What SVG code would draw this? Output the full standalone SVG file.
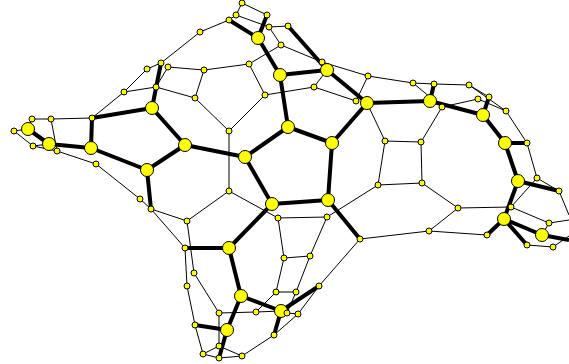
<svg xmlns="http://www.w3.org/2000/svg" width="569" height="364" viewBox="0 0 569 364">
<style>
.t{stroke:#000;stroke-width:1;fill:none}
.k{stroke:#000;stroke-width:4;fill:none}
.b{fill:#ffff00;stroke:#000;stroke-width:1}
</style>
<rect width="569" height="364" fill="#fff"/>
<g id="connectors">
<path class="k" d="M28,129L49,144M49,144L91,148M91,148L92,118M92,118L152,108M91,148L147,170M152,108L161,63M152,108L185,145M185,145L147,170M147,170L151,209M185,145L245,157M245,157L288,127M245,157L272,204M288,127L280,75M288,127L332,143M280,75L258,38M280,75L327,70M258,38L229,20M258,38L267,15M288,26L327,70M327,70L367,103M367,103L332,143M367,103L430,101M430,101L434,84M430,101L483,115M483,115L489,97M483,115L505,143M505,143L527,143M505,143L518,181M518,181L559,191M518,181L504,219M504,219L487,235M504,219L527,245M504,219L542,235M542,235L569,240M332,143L328,200M328,200L272,204M328,200L360,239M272,204L229,248M229,248L185,248M229,248L241,296M241,296L227,330M241,296L281,311M227,330L195,325M227,330L219,358M281,311L274,335M281,311L319,286"/>
<path class="t" d="M14,131L28,129M14,131L33,146M28,129L32,119M32,119L51,119M51,119L92,118M51,119L57,151M33,146L49,144M33,146L57,151M57,151L96,164M96,164L140,199M140,199L151,209M151,209L187,221M151,209L185,248M92,118L124,92M124,92L147,69M124,92L156,87M147,69L161,63M161,63L200,32M168,67L204,70M168,67L156,87M156,87L195,98M204,70L195,98M204,70L249,64M195,98L229,131M249,64L281,45M249,64L265,95M265,95L229,131M265,95L314,87M229,131L229,191M200,32L229,20M229,20L236,15M236,15L242,3M242,3L267,15M236,15L269,27M269,27L288,26M269,27L281,45M281,45L322,62M322,62L368,76M368,76L413,83M413,83L434,84M413,83L442,107M434,84L469,85M469,85L489,97M469,85L506,111M442,107L478,99M478,99L506,111M506,111L527,143M442,107L421,142M327,70L314,87M314,87L356,101M356,101L368,76M367,103L385,141M385,141L421,142M421,142L422,183M385,141L378,185M378,185L422,183M378,185L327,217M422,183L458,208M458,208L511,207M458,208L429,231M429,231L360,239M429,231L487,235M527,143L537,178M537,178L511,207M537,178L559,191M511,207L549,223M549,223L542,235M549,223L569,220M559,191L569,215M527,245L553,247M553,247L569,236M229,191L187,221M229,191L278,218M278,218L327,217M278,218L284,258M327,217L310,256M284,258L310,256M284,258L276,292M310,256L296,292M296,292L276,292M296,292L287,313M276,292L256,312M256,312L219,313M256,312L281,311M219,313L194,273M219,313L219,346M194,273L187,221M185,248L187,286M187,286L195,325M195,325L203,354M203,354L219,346M203,354L219,358M219,346L242,356M219,358L242,356M242,356L274,335M274,335L298,314M287,313L298,314M298,314L319,286M319,286L360,239"/>
</g>
<g id="n1"><circle class="b" cx="14" cy="131" r="3"/></g>
<g id="n2"><circle class="b" cx="28" cy="129" r="6.5"/></g>
<g id="n3"><circle class="b" cx="32" cy="119" r="3"/></g>
<g id="n4"><circle class="b" cx="51" cy="119" r="3"/></g>
<g id="n5"><circle class="b" cx="92" cy="118" r="3"/></g>
<g id="n6"><circle class="b" cx="33" cy="146" r="3"/></g>
<g id="n7"><circle class="b" cx="49" cy="144" r="6.5"/></g>
<g id="n8"><circle class="b" cx="57" cy="151" r="3"/></g>
<g id="n9"><circle class="b" cx="91" cy="148" r="6.5"/></g>
<g id="n10"><circle class="b" cx="96" cy="164" r="3"/></g>
<g id="n11"><circle class="b" cx="140" cy="199" r="3"/></g>
<g id="n12"><circle class="b" cx="147" cy="170" r="6.5"/></g>
<g id="n13"><circle class="b" cx="151" cy="209" r="3"/></g>
<g id="n14"><circle class="b" cx="124" cy="92" r="3"/></g>
<g id="n15"><circle class="b" cx="147" cy="69" r="3"/></g>
<g id="n16"><circle class="b" cx="161" cy="63" r="3"/></g>
<g id="n17"><circle class="b" cx="168" cy="67" r="3"/></g>
<g id="n18"><circle class="b" cx="156" cy="87" r="3"/></g>
<g id="n19"><circle class="b" cx="152" cy="108" r="6.5"/></g>
<g id="n20"><circle class="b" cx="185" cy="145" r="6.5"/></g>
<g id="n21"><circle class="b" cx="200" cy="32" r="3"/></g>
<g id="n22"><circle class="b" cx="204" cy="70" r="3"/></g>
<g id="n23"><circle class="b" cx="195" cy="98" r="3"/></g>
<g id="n24"><circle class="b" cx="249" cy="64" r="3"/></g>
<g id="n25"><circle class="b" cx="265" cy="95" r="3"/></g>
<g id="n26"><circle class="b" cx="229" cy="131" r="3"/></g>
<g id="n27"><circle class="b" cx="229" cy="20" r="3"/></g>
<g id="n28"><circle class="b" cx="236" cy="15" r="3"/></g>
<g id="n29"><circle class="b" cx="242" cy="3" r="3"/></g>
<g id="n30"><circle class="b" cx="267" cy="15" r="3"/></g>
<g id="n31"><circle class="b" cx="269" cy="27" r="3"/></g>
<g id="n32"><circle class="b" cx="258" cy="38" r="6.5"/></g>
<g id="n33"><circle class="b" cx="281" cy="45" r="3"/></g>
<g id="n34"><circle class="b" cx="288" cy="26" r="3"/></g>
<g id="n35"><circle class="b" cx="280" cy="75" r="6.5"/></g>
<g id="n36"><circle class="b" cx="322" cy="62" r="3"/></g>
<g id="n37"><circle class="b" cx="327" cy="70" r="6.5"/></g>
<g id="n38"><circle class="b" cx="314" cy="87" r="3"/></g>
<g id="n39"><circle class="b" cx="368" cy="76" r="3"/></g>
<g id="n40"><circle class="b" cx="356" cy="101" r="3"/></g>
<g id="n41"><circle class="b" cx="367" cy="103" r="6.5"/></g>
<g id="n42"><circle class="b" cx="413" cy="83" r="3"/></g>
<g id="n43"><circle class="b" cx="434" cy="84" r="3"/></g>
<g id="n44"><circle class="b" cx="469" cy="85" r="3"/></g>
<g id="n45"><circle class="b" cx="430" cy="101" r="6.5"/></g>
<g id="n46"><circle class="b" cx="442" cy="107" r="3"/></g>
<g id="n47"><circle class="b" cx="478" cy="99" r="3"/></g>
<g id="n48"><circle class="b" cx="489" cy="97" r="3"/></g>
<g id="n49"><circle class="b" cx="506" cy="111" r="3"/></g>
<g id="n50"><circle class="b" cx="483" cy="115" r="6.5"/></g>
<g id="n51"><circle class="b" cx="505" cy="143" r="6.5"/></g>
<g id="n52"><circle class="b" cx="527" cy="143" r="3"/></g>
<g id="n53"><circle class="b" cx="518" cy="181" r="6.5"/></g>
<g id="n54"><circle class="b" cx="537" cy="178" r="3"/></g>
<g id="n55"><circle class="b" cx="559" cy="191" r="3"/></g>
<g id="n56"><circle class="b" cx="511" cy="207" r="3"/></g>
<g id="n57"><circle class="b" cx="504" cy="219" r="6.5"/></g>
<g id="n58"><circle class="b" cx="549" cy="223" r="3"/></g>
<g id="n59"><circle class="b" cx="542" cy="235" r="6.5"/></g>
<g id="n60"><circle class="b" cx="487" cy="235" r="3"/></g>
<g id="n61"><circle class="b" cx="527" cy="245" r="3"/></g>
<g id="n62"><circle class="b" cx="553" cy="247" r="3"/></g>
<g id="n63"><circle class="b" cx="458" cy="208" r="3"/></g>
<g id="n64"><circle class="b" cx="429" cy="231" r="3"/></g>
<g id="n65"><circle class="b" cx="385" cy="141" r="3"/></g>
<g id="n66"><circle class="b" cx="421" cy="142" r="3"/></g>
<g id="n67"><circle class="b" cx="422" cy="183" r="3"/></g>
<g id="n68"><circle class="b" cx="378" cy="185" r="3"/></g>
<g id="n69"><circle class="b" cx="360" cy="239" r="3"/></g>
<g id="n70"><circle class="b" cx="245" cy="157" r="6.5"/></g>
<g id="n71"><circle class="b" cx="288" cy="127" r="6.5"/></g>
<g id="n72"><circle class="b" cx="332" cy="143" r="6.5"/></g>
<g id="n73"><circle class="b" cx="328" cy="200" r="6.5"/></g>
<g id="n74"><circle class="b" cx="272" cy="204" r="6.5"/></g>
<g id="n75"><circle class="b" cx="229" cy="191" r="3"/></g>
<g id="n76"><circle class="b" cx="187" cy="221" r="3"/></g>
<g id="n77"><circle class="b" cx="278" cy="218" r="3"/></g>
<g id="n78"><circle class="b" cx="327" cy="217" r="3"/></g>
<g id="n79"><circle class="b" cx="229" cy="248" r="6.5"/></g>
<g id="n80"><circle class="b" cx="185" cy="248" r="3"/></g>
<g id="n81"><circle class="b" cx="194" cy="273" r="3"/></g>
<g id="n82"><circle class="b" cx="187" cy="286" r="3"/></g>
<g id="n83"><circle class="b" cx="241" cy="296" r="6.5"/></g>
<g id="n84"><circle class="b" cx="284" cy="258" r="3"/></g>
<g id="n85"><circle class="b" cx="310" cy="256" r="3"/></g>
<g id="n86"><circle class="b" cx="276" cy="292" r="3"/></g>
<g id="n87"><circle class="b" cx="296" cy="292" r="3"/></g>
<g id="n88"><circle class="b" cx="319" cy="286" r="3"/></g>
<g id="n89"><circle class="b" cx="219" cy="313" r="3"/></g>
<g id="n90"><circle class="b" cx="256" cy="312" r="3"/></g>
<g id="n91"><circle class="b" cx="281" cy="311" r="6.5"/></g>
<g id="n92"><circle class="b" cx="287" cy="313" r="3"/></g>
<g id="n93"><circle class="b" cx="298" cy="314" r="3"/></g>
<g id="n94"><circle class="b" cx="195" cy="325" r="3"/></g>
<g id="n95"><circle class="b" cx="227" cy="330" r="6.5"/></g>
<g id="n96"><circle class="b" cx="274" cy="335" r="3"/></g>
<g id="n97"><circle class="b" cx="219" cy="346" r="3"/></g>
<g id="n98"><circle class="b" cx="203" cy="354" r="3"/></g>
<g id="n99"><circle class="b" cx="219" cy="358" r="3"/></g>
<g id="n100"><circle class="b" cx="242" cy="356" r="3"/></g>
</svg>
